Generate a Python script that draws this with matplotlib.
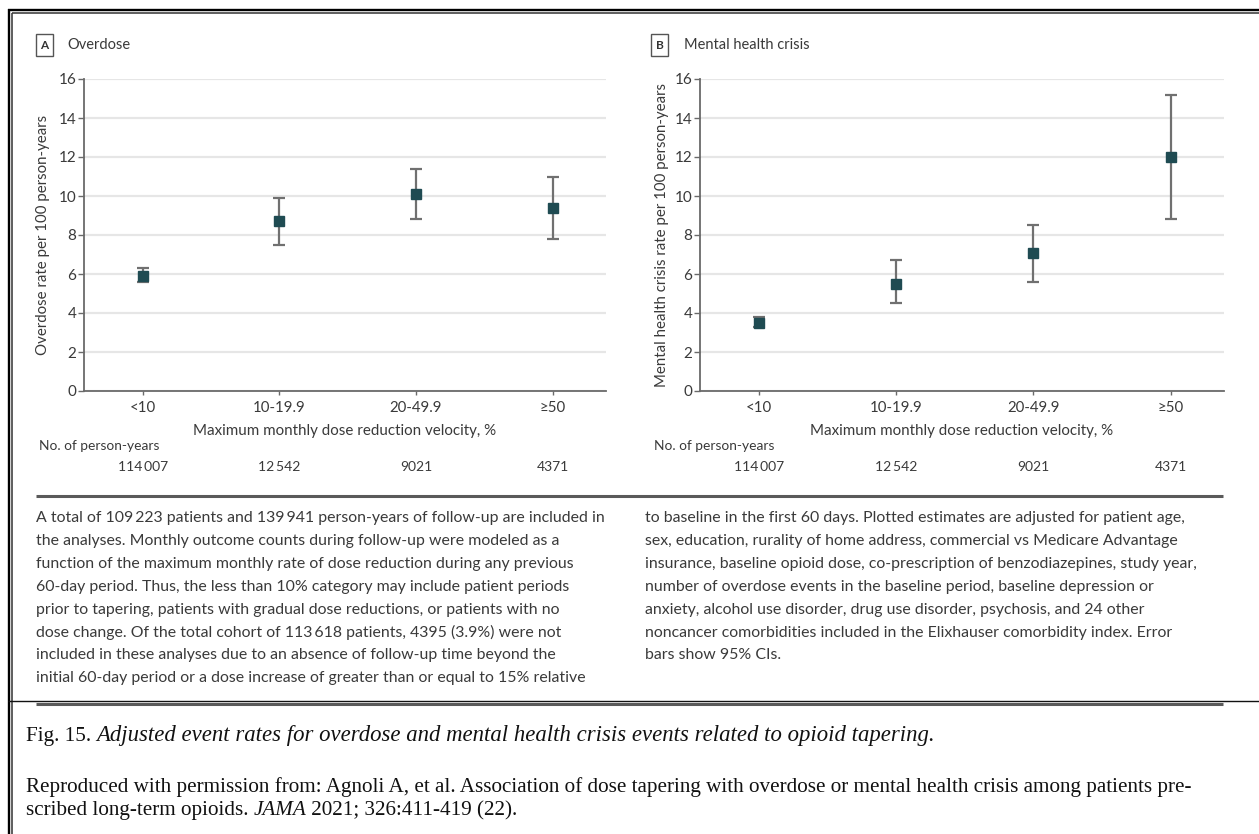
import matplotlib
matplotlib.use('Agg')
import matplotlib.pyplot as plt
from matplotlib.lines import Line2D
from matplotlib.patches import Rectangle
from matplotlib.transforms import blended_transform_factory
import numpy as np

# ---------------- data ----------------
categories = ['<10', '10-19.9', '20-49.9', '≥50']
person_years = ['114\u2009007', '12\u2009542', '9021', '4371']
overdose_rate = [5.9, 8.7, 10.1, 9.4]
overdose_lo = [5.6, 7.5, 8.8, 7.8]
overdose_hi = [6.3, 9.9, 11.4, 11.0]
mental_rate = [3.5, 5.5, 7.1, 12.0]
mental_lo = [3.3, 4.5, 5.6, 8.8]
mental_hi = [3.8, 6.7, 8.5, 15.2]
y_ticks = [0, 2, 4, 6, 8, 10, 12, 14, 16]

panel_letters = ['A', 'B']
panel_titles = ['Overdose', 'Mental health crisis']
y_labels = ['Overdose rate per 100 person-years',
            'Mental health crisis rate per 100 person-years']
x_label = 'Maximum monthly dose reduction velocity, %'
py_label = 'No. of person-years'

note_left = [
    "A total of 109\u2009223 patients and 139\u2009941 person-years of follow-up are included in",
    "the analyses. Monthly outcome counts during follow-up were modeled as a",
    "function of the maximum monthly rate of dose reduction during any previous",
    "60-day period. Thus, the less than 10% category may include patient periods",
    "prior to tapering, patients with gradual dose reductions, or patients with no",
    "dose change. Of the total cohort of 113\u2009618 patients, 4395 (3.9%) were not",
    "included in these analyses due to an absence of follow-up time beyond the",
    "initial 60-day period or a dose increase of greater than or equal to 15% relative",
]
note_right = [
    "to baseline in the first 60 days. Plotted estimates are adjusted for patient age,",
    "sex, education, rurality of home address, commercial vs Medicare Advantage",
    "insurance, baseline opioid dose, co-prescription of benzodiazepines, study year,",
    "number of overdose events in the baseline period, baseline depression or",
    "anxiety, alcohol use disorder, drug use disorder, psychosis, and 24 other",
    "noncancer comorbidities included in the Elixhauser comorbidity index. Error",
    "bars show 95% CIs.",
]
caption_runs = [("Fig. 15. ", 'normal', 15.2),
                ("Adjusted event rates for overdose and mental health crisis events related to opioid tapering.", 'italic', 16.4)]
source_line1 = [("Reproduced with permission from: Agnoli A, et al. Association of dose tapering with overdose or mental health crisis among patients pre-", 'normal', 15.2)]
source_line2 = [("scribed long-term opioids. ", 'normal', 15.2), ("JAMA", 'italic', 15.2), (" 2021; 326:411-419 (22).", 'normal', 15.2)]

# ---------------- figure ----------------
W, H = 1259, 834
fig = plt.figure(figsize=(W / 100, H / 100), dpi=100)
fig.patch.set_facecolor('white')

def fx(px):
    return px / W

def fy(py):
    return 1 - py / H

SANS = ['Lato', 'DejaVu Sans']
SERIF = ['Liberation Serif', 'DejaVu Serif']
TXT = '#3a3a3a'
AXC = '#6a6a6a'
MARK = '#1f4b52'
ERR = '#707070'

panels = [
    dict(left=84, right=606, rate=overdose_rate, lo=overdose_lo, hi=overdose_hi,
         box=36, title_x=67, ylab_x=-0.066, py_x=39),
    dict(left=700, right=1224, rate=mental_rate, lo=mental_lo, hi=mental_hi,
         box=651, title_x=684, ylab_x=-0.060, py_x=654),
]
ax_top, ax_bot = 79, 391
xpos = np.arange(len(categories))

for i, p in enumerate(panels):
    ax = fig.add_axes([fx(p['left']), fy(ax_bot), (p['right'] - p['left']) / W,
                       (ax_bot - ax_top) / H])
    ax.set_xlim(-0.43, 3.39)
    ax.set_ylim(0, 16)
    rate = np.array(p['rate'])
    lo = np.array(p['lo'])
    hi = np.array(p['hi'])
    ax.errorbar(xpos, rate, yerr=[rate - lo, hi - rate], fmt='s', ms=7,
                mfc=MARK, mec=MARK, ecolor=ERR, elinewidth=1.6, capsize=4.5,
                capthick=1.6, zorder=3)
    ax.set_yticks(y_ticks)
    ax.set_yticklabels([str(t) for t in y_ticks], family=SANS, fontsize=11, color=TXT)
    ax.set_xticks(xpos)
    ax.set_xticklabels(categories, family=SANS, fontsize=10.8, color=TXT)
    ax.tick_params(axis='y', length=4, width=1, color=AXC, pad=1.5)
    ax.tick_params(axis='x', length=3, width=1, color=AXC, pad=4.5)
    for s in ['top', 'right']:
        ax.spines[s].set_visible(False)
    for s in ['left', 'bottom']:
        ax.spines[s].set_color(AXC)
        ax.spines[s].set_linewidth(1.3)
    ax.grid(axis='y', color='#e6e6e6', linewidth=1.6, zorder=0)
    ax.set_axisbelow(True)
    ax.set_ylabel(y_labels[i], family=SANS, fontsize=10.8, color=TXT)
    ax.yaxis.set_label_coords(p['ylab_x'], 0.5)
    ax.set_xlabel(x_label, family=SANS, fontsize=10.9, color=TXT)
    ax.xaxis.set_label_coords(0.5, -0.106)

    # panel letter box and title
    fig.patches.append(Rectangle((fx(p['box']), fy(56)), 17 / W, 22 / H,
                                 transform=fig.transFigure, fill=False,
                                 edgecolor='#555555', linewidth=1.0))
    fig.text(fx(p['box'] + 8.5), fy(45.5), panel_letters[i], family=SANS,
             fontsize=8.5, weight='bold', color='#333333', ha='center', va='center')
    fig.text(fx(p['title_x']), fy(45), panel_titles[i], family=SANS, fontsize=10.5,
             color=TXT, ha='left', va='center')

    # person-years row
    fig.text(fx(p['py_x']), fy(446), py_label, family=SANS, fontsize=9.9,
             color=TXT, ha='left', va='center')
    tr = blended_transform_factory(ax.transData, fig.transFigure)
    for xv, lab in zip(xpos, person_years):
        ax.text(xv, fy(467), lab, transform=tr, family=SANS, fontsize=10,
                color=TXT, ha='center', va='center')

# ---------------- notes ----------------
for j, line in enumerate(note_left):
    fig.text(fx(36), fy(518.3 + 22.86 * j), line, family=SANS, fontsize=11.4,
             color=TXT, ha='left', va='center')
for j, line in enumerate(note_right):
    fig.text(fx(645), fy(518.3 + 22.86 * j), line, family=SANS, fontsize=11.4,
             color=TXT, ha='left', va='center')

# ---------------- frame / rules ----------------
def hline(y, x0, x1, lw, color):
    fig.add_artist(Line2D([fx(x0), fx(x1)], [fy(y), fy(y)], transform=fig.transFigure,
                          color=color, linewidth=lw, solid_capstyle='butt'))

def vline(x, y0, y1, lw, color):
    fig.add_artist(Line2D([fx(x), fx(x)], [fy(y0), fy(y1)], transform=fig.transFigure,
                          color=color, linewidth=lw, solid_capstyle='butt'))

hline(10, 8, W, 1.7, '#000000')
hline(13.3, 11.5, W, 1.1, '#333333')
vline(9, 9, H, 1.7, '#000000')
vline(12.3, 12.5, H, 1.1, '#333333')
hline(495.5, 36, 1223, 2.2, '#5a5a5a')
hline(701, 8, W, 1.0, '#111111')
hline(703.5, 36, 1223, 2.2, '#5a5a5a')

# ---------------- serif caption ----------------
renderer = fig.canvas.get_renderer()

def draw_runs(x_px, base_px, runs):
    x = x_px
    for s, style, size in runs:
        t = fig.text(fx(x), fy(base_px), s, family=SERIF, style=style, fontsize=size,
                     color='#111111', ha='left', va='baseline')
        bb = t.get_window_extent(renderer)
        x = bb.x1

draw_runs(26, 741, caption_runs)
draw_runs(26, 792, source_line1)
draw_runs(26, 815, source_line2)

fig.savefig('out.png', dpi=100, facecolor='white')
